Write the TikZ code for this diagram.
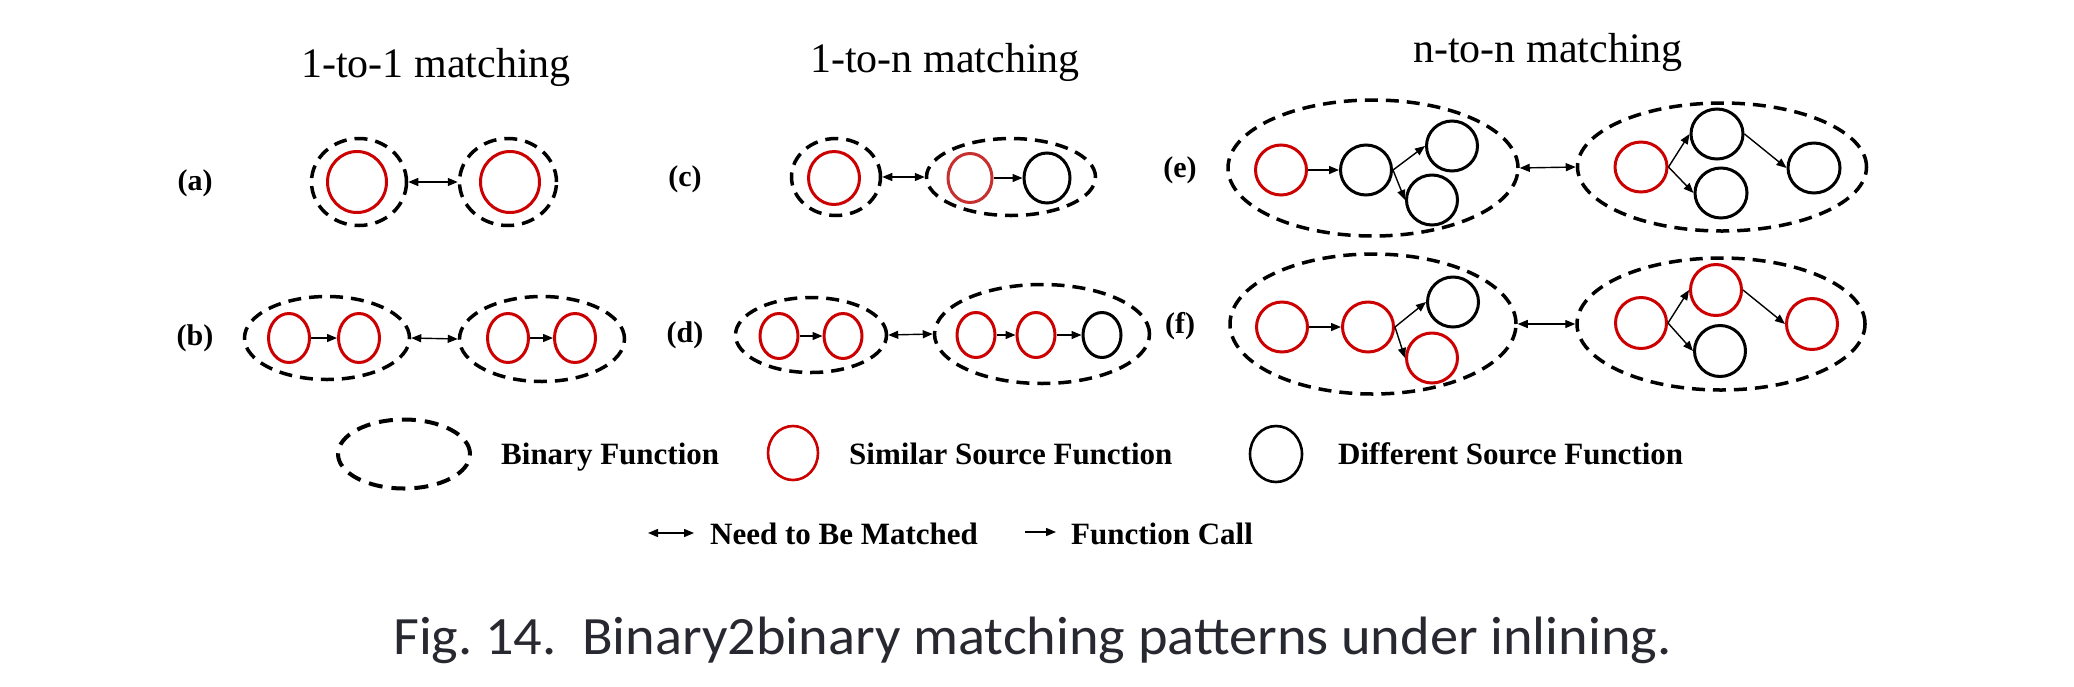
\documentclass[tikz,border=0pt]{standalone}
\usepackage{fontspec}
\setmainfont{Liberation Serif}
\newfontfamily\capfont{Carlito}
\usetikzlibrary{arrows.meta,shapes.geometric}
\definecolor{fred}{RGB}{204,0,0}
\definecolor{fredl}{RGB}{198,48,48}
\definecolor{capgray}{RGB}{40,40,48}
\begin{document}
\begin{tikzpicture}[x=1pt,y=-1pt,
  sz/.style n args={2}{minimum width=#1pt,minimum height=#2pt},
  bin/.style={draw=black,line width=3.5pt,dash pattern=on 13pt off 8pt,ellipse,inner sep=0pt},
  sim/.style={draw=fred,line width=3pt,ellipse,inner sep=0pt},
  dif/.style={draw=black,line width=3pt,ellipse,inner sep=0pt},
  call/.style={-{Triangle[length=10pt,width=8pt]},line width=1.4pt},
  match/.style={{Triangle[length=10pt,width=8pt]}-{Triangle[length=10pt,width=8pt]},line width=1.4pt},
  ttl/.style={inner sep=0pt,anchor=base,font=\fontsize{42}{46}\selectfont},
  lbl/.style={inner sep=0pt,font=\fontsize{30}{34}\selectfont\bfseries},
  leg/.style={inner sep=0pt,anchor=base west,font=\fontsize{31}{35}\selectfont\bfseries}
]
\useasboundingbox (0,0) rectangle (2074,686);
\fill[white] (0,0) rectangle (2074,686);

% titles
\node[ttl] (t1) at (436,77) {1-to-1 matching};
\node[ttl] (t2) at (945,72) {1-to-n matching};
\node[ttl] (t3) at (1548,62) {n-to-n matching};

% labels
\node[lbl] (la) at (195,183) {(a)};
\node[lbl] (lb) at (195,338) {(b)};
\node[lbl] (lc) at (685,179) {(c)};
\node[lbl] (ld) at (685,335) {(d)};
\node[lbl] (le) at (1180,170) {(e)};
\node[lbl] (lf) at (1180,326) {(f)};

% (a)
\node[bin,sz={95}{87}] (aL) at (359,182) {};
\node[sim,sz={59}{61}] (aL1) at (357,182) {};
\node[bin,sz={97}{87}] (aR) at (508,182) {};
\node[sim,sz={59}{61}] (aR1) at (510,182) {};
\draw[match] (aL.east) -- (aR.west);

% (b)
\node[bin,sz={165}{83}] (bL) at (327,338) {};
\node[sim,sz={41}{49}] (bL1) at (289,338) {};
\node[sim,sz={41}{49}] (bL2) at (359,338) {};
\node[bin,sz={165}{85}] (bR) at (542,339) {};
\node[sim,sz={41}{49}] (bR1) at (508,338) {};
\node[sim,sz={41}{49}] (bR2) at (575,338) {};
\draw[call] (bL1.east) -- (bL2.west);
\draw[call] (bR1.east) -- (bR2.west);
\draw[match] (bL.east) -- (bR.west);

% (c)
\node[bin,sz={89}{77}] (cL) at (836,177) {};
\node[sim,sz={51}{53}] (cL1) at (834,178) {};
\node[bin,sz={169}{77}] (cR) at (1011,177) {};
\node[sim,draw=fredl,sz={44}{49}] (cR1) at (970,178) {};
\node[dif,sz={46}{50}] (cR2) at (1047,178) {};
\draw[call] (cR1.east) -- (cR2.west);
\draw[match] (cL.east) -- (cR.west);

% (d)
\node[bin,sz={151}{75}] (dL) at (811,335) {};
\node[sim,sz={38}{45}] (dL1) at (779,336) {};
\node[sim,sz={38}{45}] (dL2) at (843,336) {};
\node[bin,sz={215}{99}] (dR) at (1042,334) {};
\node[sim,sz={38}{45}] (dR1) at (976,335) {};
\node[sim,sz={38}{45}] (dR2) at (1036,335) {};
\node[dif,sz={38}{45}] (dR3) at (1102,335) {};
\draw[call] (dL1.east) -- (dL2.west);
\draw[call] (dR1.east) -- (dR2.west);
\draw[call] (dR2.east) -- (dR3.west);
\draw[match] (dL.east) -- (dR.west);

% (e)
\node[bin,sz={290}{136}] (eL) at (1373,168) {};
\node[sim,sz={51}{50}] (eL1) at (1281,170) {};
\node[dif,sz={51}{50}] (eL2) at (1366,170) {};
\node[dif,sz={51}{50}] (eL3) at (1452,146) {};
\node[dif,sz={51}{50}] (eL4) at (1432,200) {};
\draw[call] (eL1.east) -- (eL2.west);
\draw[call] (eL2.east) -- (eL3.west);
\draw[call] (eL2.east) -- (eL4.west);
\node[bin,sz={289}{128}] (eR) at (1722,167) {};
\node[sim,sz={52}{50}] (eR1) at (1641,167) {};
\node[dif,sz={52}{50}] (eR2) at (1717,134) {};
\node[dif,sz={52}{50}] (eR3) at (1721,193) {};
\node[dif,sz={52}{50}] (eR4) at (1814,168) {};
\draw[call] (eR1.east) -- (eR2.west);
\draw[call] (eR1.east) -- (eR3.west);
\draw[call] (eR2.east) -- (eR4.west);
\draw[match] (eL.east) -- (eR.west);

% (f)
\node[bin,sz={286}{140}] (fL) at (1373,324) {};
\node[sim,sz={51}{50}] (fL1) at (1282,327) {};
\node[sim,sz={51}{50}] (fL2) at (1368,327) {};
\node[dif,sz={51}{50}] (fL3) at (1453,302) {};
\node[sim,sz={51}{50}] (fL4) at (1432,358) {};
\draw[call] (fL1.east) -- (fL2.west);
\draw[call] (fL2.east) -- (fL3.west);
\draw[call] (fL2.east) -- (fL4.west);
\node[bin,sz={288}{132}] (fR) at (1721,324) {};
\node[sim,sz={51}{51}] (fR1) at (1641,323) {};
\node[sim,sz={51}{51}] (fR2) at (1716,290) {};
\node[dif,sz={51}{51}] (fR3) at (1720,351) {};
\node[sim,sz={51}{51}] (fR4) at (1812,324) {};
\draw[call] (fR1.east) -- (fR2.west);
\draw[call] (fR1.east) -- (fR3.west);
\draw[call] (fR2.east) -- (fR4.west);
\draw[match] (fL.east) -- (fR.west);

% legend
\node[bin,line width=4pt,dash pattern=on 14pt off 9pt,sz={132}{69}] (lg1) at (404,454) {};
\node[leg] (lt1) at (501,464) {Binary Function};
\node[sim,line width=2.6pt,sz={50}{54}] (lg2) at (793,453) {};
\node[leg] (lt2) at (849,464) {Similar Source Function};
\node[dif,line width=2.6pt,sz={52}{56}] (lg3) at (1276,454) {};
\node[leg] (lt3) at (1338,464) {Different Source Function};
\coordinate (m1) at (648,533);
\coordinate (m2) at (694,533);
\draw[match] (m1) -- (m2);
\node[leg] (lt4) at (710,544) {Need to Be Matched};
\coordinate (c1) at (1025,532);
\coordinate (c2) at (1056,532);
\draw[call] (c1) -- (c2);
\node[leg] (lt5) at (1071,544) {Function Call};

% caption
\node[inner sep=0pt,anchor=base west,text=capgray,font=\capfont\fontsize{54}{60}\selectfont] (cap) at (393,654) {\scalebox{1.043}[1]{Fig.~14.\ \ Binary2binary matching patterns under inlining.}};
\end{tikzpicture}
\end{document}
